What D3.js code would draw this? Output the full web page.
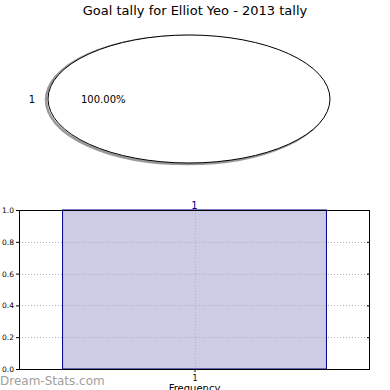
<!DOCTYPE html>
<html><head><meta charset="utf-8">
<script src="https://cdn.jsdelivr.net/npm/d3@7"></script>
<style>body{margin:0;background:#fff}svg{display:block;font-family:"DejaVu Sans",sans-serif}</style>
</head><body><svg id="c" width="390" height="390"></svg>
<script>
const title = "Goal tally for Elliot Yeo - 2013 tally";
const pieLabels = ["1"];
const pieValues = [1];
const barCategories = [1];
const barValues = [1];
const yTicks = [0.0, 0.2, 0.4, 0.6, 0.8, 1.0];
const xLabel = "Frequency";
const watermark = "Dream-Stats.com";

const svg = d3.select("#c");
svg.append("text").attr("x", 195).attr("y", 15).attr("text-anchor", "middle")
  .attr("font-size", 13).attr("fill", "#000").text(title);

// Pie (ellipse)
const cx = 189, cy = 99, rx = 141, ry = 64;
const pie = d3.pie().sort(null)(pieValues);
const arc = d3.arc().innerRadius(0).outerRadius(1);
const total = d3.sum(pieValues);
const shadow = svg.append("g").attr("transform", `translate(${cx-2},${cy+1}) scale(${rx},${ry})`);
shadow.selectAll("path").data(pie).join("path").attr("d", arc)
  .attr("fill", "none").attr("stroke", "#999").attr("stroke-width", 2.5).attr("vector-effect", "non-scaling-stroke");
const pg = svg.append("g").attr("transform", `translate(${cx},${cy}) scale(${rx},${ry})`);
pg.selectAll("path").data(pie).join("path").attr("d", arc)
  .attr("fill", "#fff").attr("stroke", "#000").attr("stroke-width", 1).attr("vector-effect", "non-scaling-stroke");
pie.forEach((d, i) => {
  svg.append("text").attr("x", 32).attr("y", cy + 4).attr("text-anchor", "middle")
    .attr("font-size", 10).text(pieLabels[i]);
  svg.append("text").attr("x", 81).attr("y", cy + 4).attr("font-size", 10)
    .text((pieValues[i] / total * 100).toFixed(2) + "%");
});

// Bar chart
const L = 19, R = 370, T = 210, B = 369;
const x = d3.scaleLinear().domain([0.468, 1.532]).range([L, R]);
const y = d3.scaleLinear().domain([0, 1]).range([B, T]);
const bw = 0.8;
const g = svg.append("g");
g.selectAll("rect.bar").data(barCategories).join("rect").attr("class", "bar")
  .attr("x", d => x(d - bw / 2)).attr("width", d => x(d + bw / 2) - x(d - bw / 2))
  .attr("y", (d, i) => y(barValues[i])).attr("height", (d, i) => B - y(barValues[i]))
  .attr("fill", "#ccccE4").attr("stroke", "#00008b").attr("stroke-width", 1);
// grid
g.selectAll("line.gy").data(yTicks.slice(1, -1)).join("line")
  .attr("x1", L).attr("x2", R).attr("y1", d => Math.round(y(d)) + 0.5).attr("y2", d => Math.round(y(d)) + 0.5)
  .attr("stroke", "#b0b0b0").attr("stroke-dasharray", "1,2");
g.selectAll("line.gx").data(barCategories).join("line")
  .attr("x1", d => Math.round(x(d)) + 0.5).attr("x2", d => Math.round(x(d)) + 0.5).attr("y1", T).attr("y2", B)
  .attr("stroke", "#b0b0b0").attr("stroke-dasharray", "1,2");
// frame
g.append("rect").attr("x", L + 0.5).attr("y", T + 0.5).attr("width", R - L - 1).attr("height", B - T)
  .attr("fill", "none").attr("stroke", "#000");
// axes
const ya = d3.axisLeft(y).tickValues(yTicks).tickFormat(d3.format(".1f")).tickSize(3).tickPadding(2);
const yg = svg.append("g").attr("transform", `translate(${L},0)`).call(ya);
yg.select(".domain").remove();
yg.selectAll("text").attr("font-size", 7.5).attr("font-family", "DejaVu Sans");
const yr = d3.axisRight(y).tickValues(yTicks).tickFormat("").tickSize(3);
const yrg = svg.append("g").attr("transform", `translate(${R},0)`).call(yr);
yrg.select(".domain").remove();
yrg.selectAll("line").attr("transform", "translate(-3,0)");
const xa = d3.axisBottom(x).tickValues(barCategories).tickFormat(d3.format("d")).tickSize(3).tickPadding(3);
const xg = svg.append("g").attr("transform", `translate(0,${B})`).call(xa);
xg.select(".domain").remove();
xg.selectAll("text").attr("font-size", 8).attr("font-family", "DejaVu Sans");
svg.append("text").attr("x", x(1)).attr("y", 392).attr("text-anchor", "middle").attr("font-size", 10).text(xLabel);
// value labels
barCategories.forEach((c, i) => {
  svg.append("text").attr("x", x(c)).attr("y", y(barValues[i]) - 1).attr("text-anchor", "middle")
    .attr("font-size", 10).attr("fill", "#00008b").text(barValues[i]);
});
// watermark
svg.append("text").attr("x", 0).attr("y", 385).attr("font-size", 12).attr("fill", "#a0a0a0")
  .attr("font-family", "DejaVu Sans, sans-serif").text(watermark);
</script></body></html>
